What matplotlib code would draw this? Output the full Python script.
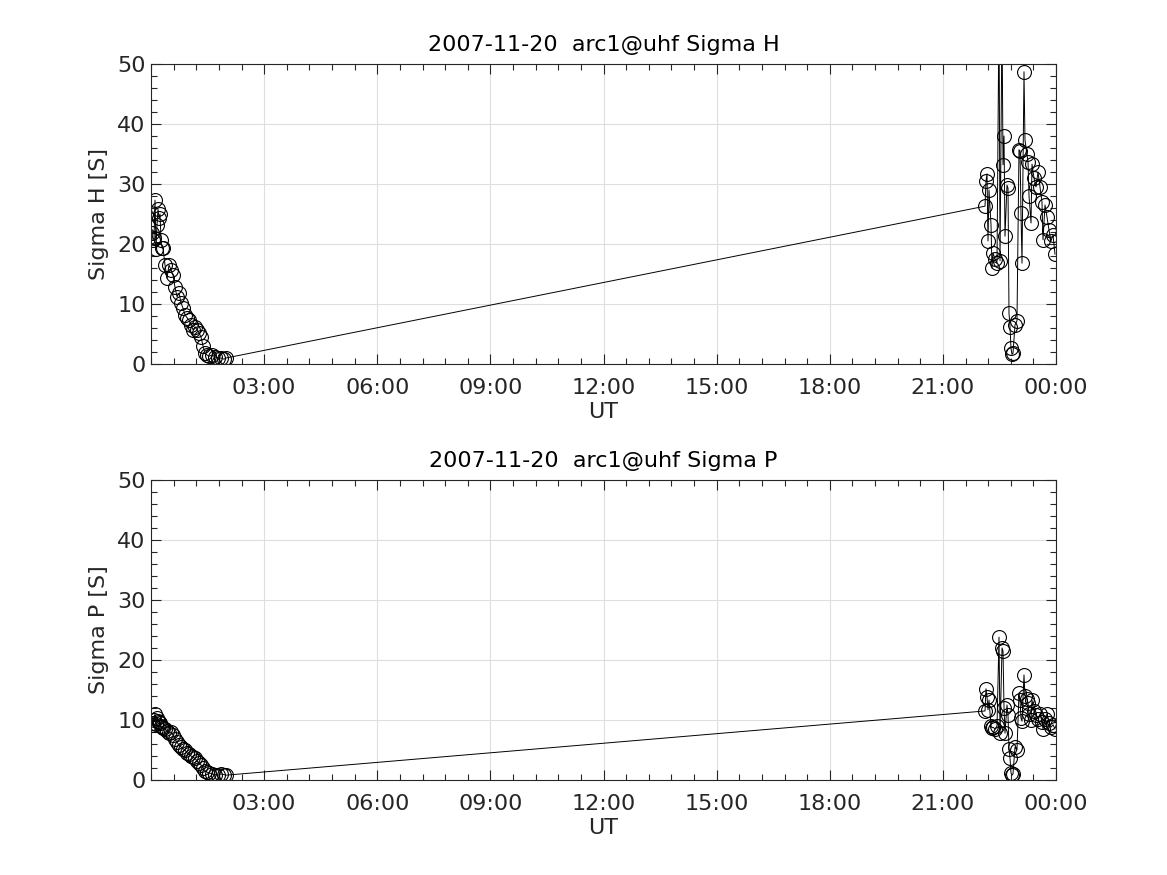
import matplotlib
matplotlib.use('Agg')
import matplotlib.pyplot as plt
import numpy as np
from matplotlib.ticker import FixedLocator, MultipleLocator

# ---- data (UT hours, conductances in S) ----
t_early = [0.027, 0.053, 0.080, 0.106, 0.133, 0.159, 0.186, 0.212, 0.239, 0.265,
           0.292, 0.318, 0.371, 0.424, 0.477, 0.530, 0.583, 0.636, 0.690, 0.743,
           0.796, 0.849, 0.902, 0.955, 1.008, 1.061, 1.114, 1.167, 1.220, 1.273,
           1.326, 1.379, 1.432, 1.485, 1.538, 1.618, 1.697, 1.777, 1.856, 1.936,
           1.989]
t_late = [22.117, 22.143, 22.170, 22.196, 22.223, 22.276, 22.302, 22.329, 22.382,
          22.435, 22.488, 22.515, 22.568, 22.594, 22.621, 22.647, 22.700, 22.727,
          22.753, 22.780, 22.806, 22.833, 22.859, 22.912, 22.965, 23.018, 23.045,
          23.071, 23.098, 23.151, 23.177, 23.230, 23.257, 23.284, 23.337, 23.363,
          23.416, 23.469, 23.522, 23.575, 23.628, 23.655, 23.708, 23.761, 23.814,
          23.867, 23.920, 23.973]

sigH_early = [21.8, 20.7, 21.0, 27.3, 19.2, 23.2, 25.8, 24.3, 25.0, 20.7,
              19.3, 19.3, 16.5, 14.3, 16.5, 15.7, 14.8, 12.8, 11.2, 11.8,
              10.2, 9.3, 8.2, 7.7, 7.3, 6.5, 5.7, 6.2, 5.7, 5.2,
              4.5, 3.0, 1.8, 1.5, 1.3, 1.5, 1.2, 1.0, 1.0, 0.8,
              1.0]
sigH_late = [26.3, 30.5, 31.7, 20.5, 29.0, 23.2, 16.0, 18.5, 17.5, 16.8,
             60.0, 17.2, 58.0, 33.2, 38.0, 21.3, 29.8, 29.3, 8.5, 6.2,
             2.6, 1.6, 1.8, 6.5, 7.2, 35.7, 35.5, 25.2, 16.8, 48.7,
             37.3, 35.0, 33.7, 28.0, 23.5, 33.3, 31.0, 29.5, 32.0, 29.5,
             27.0, 20.7, 26.5, 24.5, 22.3, 20.5, 21.5, 18.3]

sigP_early = [9.5, 9.2, 10.0, 11.0, 9.3, 10.3, 9.8, 9.7, 9.5, 9.0,
              8.8, 8.7, 8.5, 8.2, 7.8, 8.0, 7.5, 6.8, 6.3, 5.8,
              5.5, 5.2, 5.0, 4.5, 4.3, 4.0, 3.8, 3.6, 3.2, 2.8,
              2.5, 2.0, 1.5, 1.3, 1.2, 1.0, 0.9, 0.8, 1.0, 0.9,
              0.8]
sigP_late = [11.5, 15.2, 13.8, 11.7, 13.3, 9.0, 8.7, 8.8, 8.5, 9.0,
             23.8, 7.8, 22.0, 21.5, 12.0, 7.8, 12.5, 10.8, 5.2, 3.6,
             1.2, 0.8, 1.0, 5.5, 5.0, 14.5, 13.3, 10.3, 9.8, 17.5,
             14.0, 13.5, 12.8, 11.0, 10.0, 13.3, 11.5, 10.8, 10.2, 11.0,
             9.7, 8.5, 10.2, 11.0, 9.5, 8.8, 9.2, 8.5]

t = np.array(t_early + t_late)
sigH = np.array(sigH_early + sigH_late)
sigP = np.array(sigP_early + sigP_late)

xticks = [3, 6, 9, 12, 15, 18, 21, 24]
xticklabels = ['03:00', '06:00', '09:00', '12:00', '15:00', '18:00', '21:00', '00:00']
titles = ['2007-11-20  arc1@uhf Sigma H', '2007-11-20  arc1@uhf Sigma P']
ylabels = ['Sigma H [S]', 'Sigma P [S]']

fig = plt.figure(figsize=(11.67, 8.75), dpi=100)
ax_top = fig.add_axes([0.1294, 0.584, 0.7755, 0.3429])
ax_bot = fig.add_axes([0.1294, 0.1086, 0.7755, 0.3429])

for ax, y, title, ylab in zip([ax_top, ax_bot], [sigH, sigP], titles, ylabels):
    ax.plot(t, y, color='k', lw=0.7, marker='o', ms=10, mfc='none',
            mec='k', mew=0.8, clip_on=True)
    ax.set_xlim(0, 24)
    ax.set_ylim(0, 50)
    ax.xaxis.set_major_locator(FixedLocator(xticks))
    ax.set_xticklabels(xticklabels)
    ax.xaxis.set_minor_locator(MultipleLocator(0.6))
    ax.yaxis.set_major_locator(MultipleLocator(10))
    ax.yaxis.set_minor_locator(MultipleLocator(2))
    ax.tick_params(which='both', direction='in', top=True, right=True,
                   labelsize=16, labelcolor='#262626', color='#262626', width=0.8)
    ax.tick_params(which='major', length=7)
    ax.tick_params(which='minor', length=4)
    ax.tick_params(axis='x', which='major', pad=10)
    ax.tick_params(axis='y', which='major', pad=4)
    ax.grid(True, which='major', color='#dedede', lw=0.8)
    ax.set_axisbelow(True)
    for s in ax.spines.values():
        s.set_color('#262626')
        s.set_linewidth(0.8)
    ax.set_title(title, fontsize=16, color='k', pad=9)
    ax.set_xlabel('UT', fontsize=16, color='#262626', labelpad=3)
    ax.set_ylabel(ylab, fontsize=16, color='#262626', labelpad=6)

plt.savefig('out.png', dpi=100)
